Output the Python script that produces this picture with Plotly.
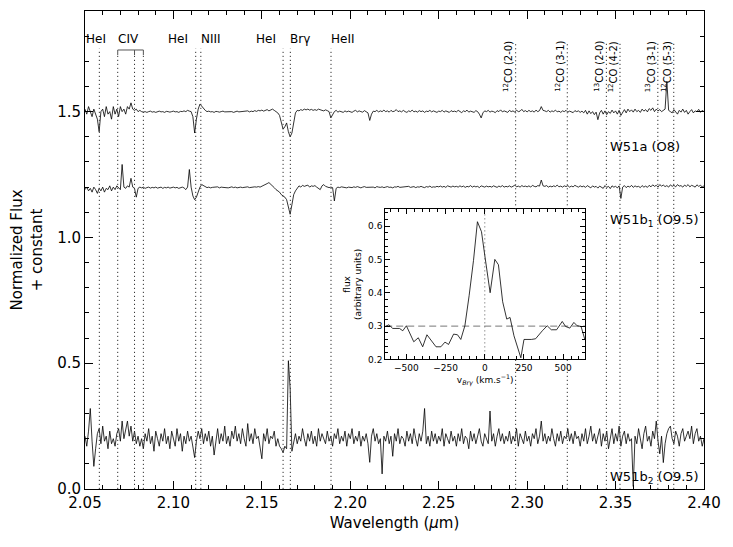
import numpy as np
import plotly.graph_objects as go

# ---------------- data ----------------
WL_START = 2.05
WL_STEP = 0.001

flux_w51a = [
    1.51, 1.49, 1.52, 1.50, 1.48, 1.51, 1.49, 1.47, 1.42, 1.50,
    1.51, 1.48, 1.52, 1.49, 1.50, 1.47, 1.52, 1.49, 1.51, 1.48,
    1.52, 1.50, 1.51, 1.49, 1.52, 1.51, 1.535, 1.51, 1.505, 1.51,
    1.50, 1.505, 1.50, 1.498, 1.50, 1.497, 1.50, 1.502, 1.498, 1.50,
    1.497, 1.50, 1.502, 1.499, 1.50, 1.497, 1.501, 1.50, 1.498, 1.50,
    1.502, 1.499, 1.50, 1.497, 1.501, 1.50, 1.503, 1.50, 1.505, 1.502,
    1.50, 1.48, 1.415, 1.47, 1.51, 1.53, 1.52, 1.515, 1.505, 1.50,
    1.502, 1.499, 1.50, 1.497, 1.501, 1.50, 1.498, 1.50, 1.502, 1.499,
    1.50, 1.498, 1.501, 1.50, 1.497, 1.50, 1.502, 1.499, 1.50, 1.498,
    1.501, 1.50, 1.503, 1.499, 1.502, 1.50, 1.504, 1.501, 1.505, 1.503,
    1.506, 1.502, 1.505, 1.508, 1.503, 1.506, 1.51, 1.505, 1.50, 1.495,
    1.485, 1.46, 1.43, 1.44, 1.455, 1.42, 1.40, 1.415, 1.465, 1.495,
    1.505, 1.503, 1.508, 1.505, 1.51, 1.507, 1.51, 1.506, 1.509, 1.505,
    1.508, 1.505, 1.51, 1.506, 1.505, 1.503, 1.507, 1.504, 1.50, 1.475,
    1.49, 1.50, 1.505, 1.498, 1.502, 1.50, 1.497, 1.503, 1.499, 1.502,
    1.50, 1.497, 1.502, 1.505, 1.499, 1.503, 1.50, 1.498, 1.504, 1.50,
    1.495, 1.465, 1.49, 1.502, 1.50, 1.505, 1.499, 1.503, 1.50, 1.506,
    1.50, 1.503, 1.498, 1.505, 1.50, 1.502, 1.508, 1.50, 1.503, 1.499,
    1.505, 1.50, 1.497, 1.503, 1.50, 1.506, 1.499, 1.502, 1.498, 1.504,
    1.50, 1.503, 1.497, 1.502, 1.50, 1.505, 1.499, 1.503, 1.50, 1.497,
    1.502, 1.50, 1.505, 1.498, 1.503, 1.50, 1.497, 1.504, 1.50, 1.502,
    1.499, 1.505, 1.50, 1.496, 1.503, 1.50, 1.506, 1.498, 1.502, 1.50,
    1.497, 1.504, 1.50, 1.49, 1.475, 1.495, 1.503, 1.50, 1.505, 1.498,
    1.502, 1.50, 1.496, 1.504, 1.50, 1.507, 1.499, 1.503, 1.50, 1.497,
    1.505, 1.50, 1.503, 1.498, 1.506, 1.50, 1.502, 1.509, 1.50, 1.504,
    1.499, 1.505, 1.50, 1.503, 1.498, 1.506, 1.50, 1.504, 1.52, 1.505,
    1.503, 1.50, 1.505, 1.498, 1.503, 1.50, 1.506, 1.499, 1.502, 1.497,
    1.503, 1.50, 1.505, 1.498, 1.502, 1.50, 1.496, 1.504, 1.50, 1.503,
    1.497, 1.502, 1.495, 1.505, 1.49, 1.503, 1.492, 1.50, 1.488, 1.498,
    1.468, 1.495, 1.505, 1.49, 1.503, 1.488, 1.50, 1.493, 1.506, 1.495,
    1.503, 1.49, 1.505, 1.485, 1.50, 1.508, 1.495, 1.51, 1.50, 1.507,
    1.498, 1.51, 1.50, 1.505, 1.497, 1.51, 1.502, 1.508, 1.499, 1.512,
    1.505, 1.515, 1.50, 1.51, 1.503, 1.508, 1.50, 1.505, 1.51, 1.62,
    1.505, 1.50, 1.495, 1.508, 1.50, 1.49, 1.505, 1.498, 1.51, 1.497,
    1.505, 1.49, 1.50, 1.508, 1.495, 1.503, 1.50, 1.509, 1.497, 1.505, 1.50,
]

flux_w51b1 = [
    1.19, 1.20, 1.185, 1.195, 1.18, 1.20, 1.19, 1.175, 1.195, 1.185,
    1.20, 1.18, 1.195, 1.19, 1.205, 1.185, 1.20, 1.19, 1.205, 1.195,
    1.19, 1.29, 1.20, 1.195, 1.205, 1.20, 1.235, 1.20, 1.195, 1.16,
    1.195, 1.20, 1.197, 1.20, 1.195, 1.198, 1.20, 1.196, 1.199, 1.197,
    1.20, 1.196, 1.198, 1.20, 1.195, 1.199, 1.197, 1.20, 1.196, 1.198,
    1.20, 1.197, 1.199, 1.195, 1.198, 1.20, 1.197, 1.19, 1.20, 1.27,
    1.20, 1.165, 1.15, 1.16, 1.18, 1.20, 1.21, 1.205, 1.20, 1.198,
    1.20, 1.197, 1.199, 1.20, 1.198, 1.201, 1.197, 1.20, 1.199, 1.198,
    1.20, 1.197, 1.199, 1.201, 1.198, 1.20, 1.197, 1.199, 1.20, 1.198,
    1.20, 1.199, 1.201, 1.198, 1.20, 1.199, 1.201, 1.20, 1.202, 1.20,
    1.203, 1.205, 1.208, 1.214, 1.218, 1.212, 1.205, 1.198, 1.19, 1.185,
    1.18, 1.17, 1.165, 1.16, 1.15, 1.125, 1.092, 1.13, 1.17, 1.185,
    1.195, 1.205, 1.20, 1.207, 1.203, 1.205, 1.208, 1.20, 1.205, 1.203,
    1.206, 1.20, 1.193, 1.19, 1.205, 1.21, 1.203, 1.20, 1.198, 1.20,
    1.198, 1.145, 1.195, 1.20, 1.198, 1.201, 1.199, 1.20, 1.197, 1.20,
    1.20, 1.198, 1.201, 1.199, 1.202, 1.20, 1.197, 1.20, 1.202, 1.199,
    1.20, 1.198, 1.201, 1.20, 1.197, 1.202, 1.20, 1.199, 1.201, 1.198,
    1.20, 1.202, 1.199, 1.20, 1.197, 1.201, 1.20, 1.203, 1.199, 1.20,
    1.198, 1.201, 1.20, 1.203, 1.199, 1.20, 1.202, 1.198, 1.201, 1.20,
    1.203, 1.20, 1.198, 1.202, 1.20, 1.204, 1.199, 1.201, 1.20, 1.203,
    1.201, 1.204, 1.20, 1.203, 1.199, 1.205, 1.202, 1.20, 1.204, 1.201,
    1.203, 1.20, 1.205, 1.201, 1.204, 1.199, 1.203, 1.201, 1.206, 1.20,
    1.204, 1.201, 1.203, 1.198, 1.205, 1.202, 1.20, 1.204, 1.201, 1.203,
    1.20, 1.205, 1.202, 1.199, 1.204, 1.201, 1.206, 1.20, 1.203, 1.201,
    1.205, 1.20, 1.203, 1.208, 1.201, 1.204, 1.20, 1.206, 1.202, 1.204,
    1.201, 1.205, 1.20, 1.207, 1.203, 1.201, 1.206, 1.204, 1.228, 1.205,
    1.203, 1.206, 1.20, 1.204, 1.201, 1.205, 1.202, 1.208, 1.201, 1.204,
    1.20, 1.205, 1.202, 1.206, 1.20, 1.204, 1.201, 1.207, 1.203, 1.20,
    1.205, 1.201, 1.204, 1.199, 1.206, 1.202, 1.197, 1.205, 1.20, 1.203,
    1.196, 1.204, 1.20, 1.195, 1.206, 1.199, 1.203, 1.194, 1.205, 1.20,
    1.203, 1.197, 1.205, 1.155, 1.20, 1.206, 1.198, 1.204, 1.20, 1.207,
    1.199, 1.205, 1.201, 1.203, 1.198, 1.206, 1.20, 1.204, 1.199, 1.207,
    1.201, 1.209, 1.203, 1.207, 1.20, 1.21, 1.204, 1.208, 1.202, 1.206,
    1.20, 1.209, 1.203, 1.207, 1.201, 1.21, 1.204, 1.206, 1.20, 1.208,
    1.203, 1.21, 1.201, 1.207, 1.204, 1.20, 1.209, 1.203, 1.207, 1.201, 1.205,
]

flux_w51b2 = [
    0.21, 0.17, 0.23, 0.32, 0.19, 0.09, 0.16, 0.22, 0.24, 0.18,
    0.25, 0.19, 0.21, 0.16, 0.23, 0.18, 0.20, 0.17, 0.22, 0.24,
    0.19, 0.27, 0.20, 0.23, 0.27, 0.21, 0.25, 0.19, 0.23, 0.18,
    0.21, 0.17, 0.20, 0.16, 0.22, 0.19, 0.24, 0.18, 0.21, 0.15,
    0.23, 0.20, 0.17, 0.22, 0.19, 0.24, 0.18, 0.21, 0.16, 0.23,
    0.20, 0.17, 0.24, 0.19, 0.22, 0.15, 0.21, 0.18, 0.23, 0.19,
    0.21, 0.17, 0.125, 0.19, 0.23, 0.20, 0.24, 0.18, 0.22, 0.19,
    0.23, 0.17, 0.21, 0.135, 0.20, 0.24, 0.18, 0.22, 0.19, 0.25,
    0.18, 0.21, 0.17, 0.23, 0.20, 0.25, 0.19, 0.22, 0.18, 0.24,
    0.20, 0.17, 0.26, 0.19, 0.22, 0.18, 0.24, 0.20, 0.21, 0.17,
    0.12, 0.22, 0.19, 0.24, 0.18, 0.21, 0.20, 0.23, 0.17, 0.20,
    0.17, 0.16, 0.145, 0.17, 0.16, 0.51, 0.40, 0.15, 0.19, 0.22,
    0.18, 0.21, 0.19, 0.24, 0.20, 0.17, 0.22, 0.19, 0.23, 0.18,
    0.21, 0.17, 0.24, 0.19, 0.22, 0.20, 0.18, 0.23, 0.19, 0.21,
    0.17, 0.22, 0.20, 0.24, 0.18, 0.21, 0.19, 0.23, 0.17, 0.22,
    0.20, 0.24, 0.18, 0.21, 0.19, 0.23, 0.17, 0.21, 0.19, 0.22,
    0.18, 0.106, 0.21, 0.24, 0.19, 0.22, 0.18, 0.20, 0.06, 0.21,
    0.19, 0.23, 0.18, 0.21, 0.13, 0.22, 0.19, 0.24, 0.18, 0.21,
    0.20, 0.17, 0.23, 0.19, 0.22, 0.18, 0.24, 0.20, 0.17, 0.22,
    0.19, 0.23, 0.32, 0.18, 0.21, 0.17, 0.23, 0.19, 0.22, 0.18,
    0.21, 0.19, 0.24, 0.17, 0.22, 0.20, 0.18, 0.23, 0.19, 0.21,
    0.17, 0.22, 0.19, 0.24, 0.18, 0.21, 0.20, 0.16, 0.23, 0.19,
    0.22, 0.18, 0.21, 0.24, 0.19, 0.17, 0.22, 0.20, 0.18, 0.31,
    0.19, 0.22, 0.17, 0.21, 0.24, 0.19, 0.22, 0.18, 0.21, 0.19,
    0.23, 0.18, 0.21, 0.19, 0.24, 0.17, 0.22, 0.20, 0.18, 0.23,
    0.19, 0.21, 0.17, 0.22, 0.20, 0.24, 0.18, 0.21, 0.27, 0.19,
    0.22, 0.18, 0.21, 0.19, 0.24, 0.20, 0.17, 0.22, 0.19, 0.23,
    0.18, 0.21, 0.20, 0.24, 0.19, 0.22, 0.18, 0.23, 0.20, 0.21,
    0.17, 0.22, 0.19, 0.24, 0.18, 0.21, 0.25, 0.19, 0.22, 0.18,
    0.21, 0.24, 0.17, 0.22, 0.19, 0.23, 0.16, 0.21, 0.24, 0.18,
    0.22, 0.19, 0.25, 0.17, 0.21, 0.23, 0.18, 0.22, 0.19, 0.20,
    0.01, 0.21, 0.18, 0.24, 0.20, 0.16, 0.22, 0.25, 0.19, 0.21,
    0.17, 0.23, 0.20, 0.27, 0.19, 0.14, 0.21, 0.105, 0.18, 0.22,
    0.24, 0.25, 0.20, 0.18, 0.23, 0.21, 0.17, 0.22, 0.24, 0.19,
    0.21, 0.23, 0.20, 0.25, 0.18, 0.22, 0.24, 0.19, 0.21, 0.17, 0.20,
]

# spectral line identifications (micron)
atomic_lines = [2.0581, 2.0685, 2.0780, 2.0830, 2.1126, 2.1155, 2.1620, 2.1661, 2.1891]
civ_lines = [2.0685, 2.0780, 2.0830]
atomic_labels = ["HeI", "CIV", "HeI", "NIII", "HeI", "Brγ", "HeII"]
atomic_label_x = [2.0562, 2.0748, 2.1025, 2.1211, 2.1526, 2.1718, 2.1955]

co_lines = [2.2935, 2.3227, 2.3448, 2.3525, 2.3739, 2.3829]
co_labels = ["<sup>12</sup>CO (2-0)", "<sup>12</sup>CO (3-1)", "<sup>13</sup>CO (2-0)",
             "<sup>12</sup>CO (4-2)", "<sup>13</sup>CO (3-1)", "<sup>12</sup>CO (5-3)"]

star_labels = ["W51a (O8)", "W51b<sub>1</sub> (O9.5)", "W51b<sub>2</sub> (O9.5)"]
star_label_y = [1.363, 1.066, 0.047]
star_label_x = 2.3457

# inset: Br-gamma profile of W51b2
inset_v = [-633, -612, -587, -544, -523, -500, -453, -424, -396, -369, -311, -280, -254,
           -231, -199, -174, -153, -127, -100, -72, -47, -21, 0, 34, 64, 87, 114, 140,
           161, 186, 230, 250, 297, 324, 367, 398, 424, 458, 494, 515, 542, 568, 589,
           614, 638]
inset_flux = [0.299, 0.304, 0.293, 0.293, 0.286, 0.301, 0.253, 0.265, 0.238, 0.274,
              0.238, 0.238, 0.252, 0.245, 0.276, 0.274, 0.260, 0.301, 0.391, 0.497,
              0.613, 0.583, 0.512, 0.400, 0.500, 0.484, 0.373, 0.321, 0.326, 0.271,
              0.205, 0.260, 0.260, 0.262, 0.286, 0.301, 0.289, 0.289, 0.314, 0.299,
              0.294, 0.311, 0.301, 0.299, 0.260]
inset_continuum = 0.3

# ---------------- figure ----------------
FONT = "DejaVu Sans"
YMAX = 1.9
XR = [2.05, 2.40]
INSET_XDOM = [0.485, 0.808]
INSET_YDOM = [0.271, 0.585]
DOT = "1.2px,2.8px"

fig = go.Figure()


def wl_for(flux):
    return WL_START + WL_STEP * np.arange(len(flux))


for fl in (flux_w51a, flux_w51b1, flux_w51b2):
    fig.add_trace(go.Scatter(x=wl_for(fl), y=fl, mode="lines",
                             line=dict(color="black", width=0.8),
                             xaxis="x", yaxis="y", hoverinfo="skip"))

# inset region in main-data coords (dotted lines are hidden behind the inset)
ix0 = XR[0] + INSET_XDOM[0] * (XR[1] - XR[0])
ix1 = XR[0] + INSET_XDOM[1] * (XR[1] - XR[0])
iy0 = INSET_YDOM[0] * YMAX
iy1 = INSET_YDOM[1] * YMAX

shapes = []


def vline(x, y0, y1):
    segs = [(y0, y1)]
    if ix0 <= x <= ix1:
        segs = [(y0, iy0), (iy1, y1)]
    for a, b in segs:
        shapes.append(dict(type="line", xref="x", yref="y", x0=x, x1=x, y0=a, y1=b,
                           line=dict(color="#333333", width=1, dash=DOT)))


for lam in atomic_lines:
    top = 1.725 if lam in civ_lines else 1.75
    vline(lam, 0, top)
for lam in co_lines:
    vline(lam, 0, 1.775)

# CIV bracket
shapes.append(dict(type="line", xref="x", yref="y", x0=civ_lines[0], x1=civ_lines[-1],
                   y0=1.745, y1=1.745, line=dict(color="#555555", width=1)))
for lam in civ_lines:
    shapes.append(dict(type="line", xref="x", yref="y", x0=lam, x1=lam,
                       y0=1.725, y1=1.745, line=dict(color="#555555", width=1)))

annotations = []
for t, x in zip(atomic_labels, atomic_label_x):
    annotations.append(dict(x=x, y=1.79, xref="x", yref="y", text=t, showarrow=False,
                            font=dict(family=FONT, size=12, color="black")))
for t, x in zip(co_labels, co_lines):
    annotations.append(dict(x=x, y=1.68, xref="x", yref="y", text=t, showarrow=False,
                            textangle=-90, xshift=-7,
                            font=dict(family=FONT, size=10, color="black")))
for t, y in zip(star_labels, star_label_y):
    annotations.append(dict(x=star_label_x, y=y, xref="x", yref="y", text=t,
                            showarrow=False, xanchor="left",
                            font=dict(family=FONT, size=13, color="black")))

# inset traces
fig.add_trace(go.Scatter(x=[-635, 640], y=[inset_continuum, inset_continuum], mode="lines",
                         line=dict(color="#777777", width=1, dash="7px,4px"),
                         xaxis="x2", yaxis="y2", hoverinfo="skip"))
fig.add_trace(go.Scatter(x=[0, 0], y=[0.2, 0.65], mode="lines",
                         line=dict(color="#777777", width=1, dash=DOT),
                         xaxis="x2", yaxis="y2", hoverinfo="skip"))
fig.add_trace(go.Scatter(x=inset_v, y=inset_flux, mode="lines",
                         line=dict(color="black", width=0.8),
                         xaxis="x2", yaxis="y2", hoverinfo="skip"))

axis_common = dict(showline=True, linecolor="black", linewidth=1, mirror="ticks",
                   ticks="inside", tickcolor="black", showgrid=False, zeroline=False)

fig.update_layout(
    width=733, height=547,
    margin=dict(l=77, r=37, t=3, b=66),
    plot_bgcolor="white", paper_bgcolor="white",
    showlegend=False,
    font=dict(family=FONT, color="black"),
    xaxis=dict(range=XR, tickvals=[2.05, 2.10, 2.15, 2.20, 2.25, 2.30, 2.35, 2.40],
               ticktext=["2.05", "2.10", "2.15", "2.20", "2.25", "2.30", "2.35", "2.40"],
               ticklen=8, tickfont=dict(size=15),
               minor=dict(dtick=0.01, tick0=2.05, ticklen=4, ticks="inside", tickcolor="black"),
               title=dict(text="Wavelength (<i>μ</i>m)", font=dict(size=15), standoff=6),
               **axis_common),
    yaxis=dict(range=[0, YMAX], tickvals=[0, 0.5, 1.0, 1.5],
               ticktext=["0.0", "0.5", "1.0", "1.5"], ticklen=8, tickfont=dict(size=15),
               minor=dict(dtick=0.1, tick0=0, ticklen=4, ticks="inside", tickcolor="black"),
               title=dict(text="Normalized Flux<br>+ constant", font=dict(size=15), standoff=14),
               **axis_common),
    xaxis2=dict(domain=INSET_XDOM, anchor="y2", range=[-635, 640],
                tickvals=[-500, -250, 0, 250, 500],
                ticktext=["−500", "−250", "0", "250", "500"],
                ticklen=5, tickfont=dict(size=9),
                minor=dict(dtick=50, tick0=0, ticklen=3, ticks="inside", tickcolor="black"),
                title=dict(text="v<sub><i>Brγ</i></sub> (km.s<sup>−1</sup>)",
                           font=dict(size=9), standoff=2),
                **axis_common),
    yaxis2=dict(domain=INSET_YDOM, anchor="x2", range=[0.2, 0.65],
                tickvals=[0.2, 0.3, 0.4, 0.5, 0.6],
                ticktext=["0.2", "0.3", "0.4", "0.5", "0.6"],
                ticklen=5, tickfont=dict(size=9),
                minor=dict(dtick=0.02, tick0=0.2, ticklen=3, ticks="inside", tickcolor="black"),
                title=dict(text="flux<br>(arbitrary units)", font=dict(size=9), standoff=4),
                **axis_common),
    shapes=shapes,
    annotations=annotations,
)

fig.write_html("out.html")
